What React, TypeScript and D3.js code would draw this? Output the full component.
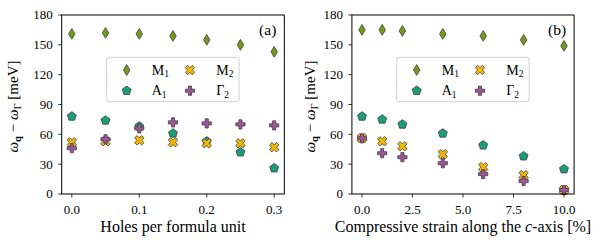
import React, { useEffect, useRef } from 'react';
import * as d3 from 'd3';

const W = 604;
const H = 247;
const FONT = "'Liberation Serif', 'DejaVu Serif', serif";

// panel (a): holes per formula unit
const holes = [0, 0.05, 0.1, 0.15, 0.2, 0.25, 0.3];
const holesM1 = [161, 162, 161, 159, 155, 150, 143];
const holesA1 = [78, 74, 68, 61, 53, 42, 26];
const holesM2 = [52, 53, 54, 52, 51, 51, 47];
const holesG2 = [46, 55, 66, 72, 71, 70, 69];
const holesTicks = [0, 0.1, 0.2, 0.3];

// panel (b): compressive strain
const strain = [0, 1, 2, 4, 6, 8, 10];
const strainM1 = [165, 165, 164, 161, 159, 155, 149];
const strainA1 = [78, 75, 70, 61, 49, 38, 25];
const strainM2 = [56, 53, 48, 40, 27, 19, 4];
const strainG2 = [56, 41, 37, 31, 20, 13, 4];
const strainTicks = [0, 2.5, 5, 7.5, 10];

const yTicks = [0, 30, 60, 90, 120, 150, 180];

const COLORS = { M1: '#74991c', A1: '#1b9e77', M2: '#f2b705', G2: '#a0559c' };
const EDGE = '#3d3d3d';

// marker paths centered at 0,0
const diamondPath = (s: number) => `M0,${-s}L${s * 0.6},0L0,${s}L${-s * 0.6},0Z`;
const pentagonPath = (r: number) => {
  const pts = d3.range(5).map(i => {
    const a = -Math.PI / 2 + (i * 2 * Math.PI) / 5;
    return [r * Math.cos(a), r * Math.sin(a)];
  });
  return 'M' + pts.map(p => p.join(',')).join('L') + 'Z';
};
const plusPts = (r: number) => {
  const t = r / 3;
  return [
    [-t, -r], [t, -r], [t, -t], [r, -t], [r, t], [t, t],
    [t, r], [-t, r], [-t, t], [-r, t], [-r, -t], [-t, -t],
  ];
};
const plusPath = (r: number) => 'M' + plusPts(r).map(p => p.join(',')).join('L') + 'Z';
const xPath = (r: number) => {
  const c = Math.SQRT1_2;
  return 'M' + plusPts(r).map(([x, y]) => [(x - y) * c, (x + y) * c].join(',')).join('L') + 'Z';
};

const markers: Record<string, string> = {
  M1: diamondPath(5.4),
  A1: pentagonPath(4.7),
  M2: xPath(5),
  G2: plusPath(4.6),
};

const App = () => {
  const ref = useRef<SVGSVGElement>(null);

  useEffect(() => {
    document.body.style.margin = '0';
    const svg = d3.select(ref.current);
    svg.selectAll('*').remove();

    const top = 15;
    const bottom = 194;

    const panels = [
      {
        x0: 61.7, x1: 284.3, dom: [-0.015, 0.315], xs: holes,
        series: { M1: holesM1, A1: holesA1, M2: holesM2, G2: holesG2 } as Record<string, number[]>,
        ticks: holesTicks, fmt: d3.format('.1f'), tag: '(a)', legendX: 106.7, ylabX: 13,
        xlabel: ['Holes per formula unit'],
      },
      {
        x0: 351.9, x1: 574.1, dom: [-0.5, 10.5], xs: strain,
        series: { M1: strainM1, A1: strainA1, M2: strainM2, G2: strainG2 } as Record<string, number[]>,
        ticks: strainTicks, fmt: d3.format('.1f'), tag: '(b)', legendX: 396.7, ylabX: 310,
        xlabel: ['Compressive strain along the ', 'c', '-axis [%]'],
      },
    ];

    panels.forEach(p => {
      const x = d3.scaleLinear().domain(p.dom).range([p.x0, p.x1]);
      const y = d3.scaleLinear().domain([0, 180]).range([bottom, top]);
      const g = svg.append('g').style('font-family', FONT);

      // points, in drawing order
      ['M1', 'A1', 'M2', 'G2'].forEach(k => {
        g.selectAll(null)
          .data(p.xs.map((xv, i) => [xv, p.series[k][i]]))
          .enter()
          .append('path')
          .attr('d', markers[k])
          .attr('transform', d => `translate(${x(d[0])},${y(d[1])})`)
          .attr('fill', (COLORS as any)[k])
          .attr('stroke', EDGE)
          .attr('stroke-width', 0.8);
      });

      // frame
      g.append('rect')
        .attr('x', p.x0).attr('y', top)
        .attr('width', p.x1 - p.x0).attr('height', bottom - top)
        .attr('fill', 'none').attr('stroke', '#000').attr('stroke-width', 1);

      // x ticks
      const xt = g.selectAll(null).data(p.ticks).enter().append('g')
        .attr('transform', d => `translate(${x(d)},${bottom})`);
      xt.append('line').attr('y2', 3.5).attr('stroke', '#000').attr('stroke-width', 0.8);
      xt.append('text').attr('y', 20).attr('text-anchor', 'middle')
        .attr('font-size', 13).text(d => p.fmt(d));

      // y ticks
      const yt = g.selectAll(null).data(yTicks).enter().append('g')
        .attr('transform', d => `translate(${p.x0},${y(d)})`);
      yt.append('line').attr('x2', -3.5).attr('stroke', '#000').attr('stroke-width', 0.8);
      yt.append('text').attr('x', -9).attr('dy', '0.34em').attr('text-anchor', 'end')
        .attr('font-size', 13).text(d => String(d));

      // x label
      const xl = g.append('text')
        .attr('x', (p.x0 + p.x1) / 2).attr('y', 232)
        .attr('text-anchor', 'middle').attr('font-size', 16);
      p.xlabel.forEach((s, i) => {
        xl.append('tspan').attr('font-style', i === 1 ? 'italic' : 'normal').text(s);
      });

      // y label
      const yl = g.append('text')
        .attr('transform', `translate(${p.ylabX + 5},${(top + bottom) / 2 + 2}) rotate(-90)`)
        .attr('text-anchor', 'middle').attr('font-size', 15);
      yl.append('tspan').attr('font-style', 'italic').text('ω');
      yl.append('tspan').attr('font-weight', 'bold').attr('font-size', 10.5).attr('dy', 3).text('q');
      yl.append('tspan').attr('dy', -3).text(' − ');
      yl.append('tspan').attr('font-style', 'italic').text('ω');
      yl.append('tspan').attr('font-size', 10.5).attr('dy', 3).text('Γ');
      yl.append('tspan').attr('dy', -3).text(' [meV]');

      // panel tag
      g.append('text').attr('x', p.x1 - 8).attr('y', 35).attr('text-anchor', 'end')
        .attr('font-size', 15.5).text(p.tag);

      // legend
      const lx = p.legendX;
      g.append('rect')
        .attr('x', lx).attr('y', 57.3).attr('width', 132.4).attr('height', 44.4)
        .attr('rx', 2.5).attr('fill', 'rgba(255,255,255,0.85)')
        .attr('stroke', '#d0d0d0').attr('stroke-width', 1);
      const items = [
        { k: 'M1', base: 'M', sub: '1', mx: 20, tx: 45, ry: 70 },
        { k: 'A1', base: 'A', sub: '1', mx: 20, tx: 45, ry: 90.7 },
        { k: 'M2', base: 'M', sub: '2', mx: 83.3, tx: 109.5, ry: 70 },
        { k: 'G2', base: 'Γ', sub: '2', mx: 83.3, tx: 109.5, ry: 90.7 },
      ];
      items.forEach(it => {
        g.append('path').attr('d', markers[it.k])
          .attr('transform', `translate(${lx + it.mx},${it.ry})`)
          .attr('fill', (COLORS as any)[it.k]).attr('stroke', EDGE).attr('stroke-width', 0.8);
        const t = g.append('text').attr('x', lx + it.tx).attr('y', it.ry + 4.5)
          .attr('font-size', 14);
        t.append('tspan').text(it.base);
        t.append('tspan').attr('font-size', 9.5).attr('dy', 2.5).text(it.sub);
      });
    });
  }, []);

  return <svg ref={ref} width={W} height={H} style={{ display: 'block', background: '#fff' }} />;
};

export default App;
